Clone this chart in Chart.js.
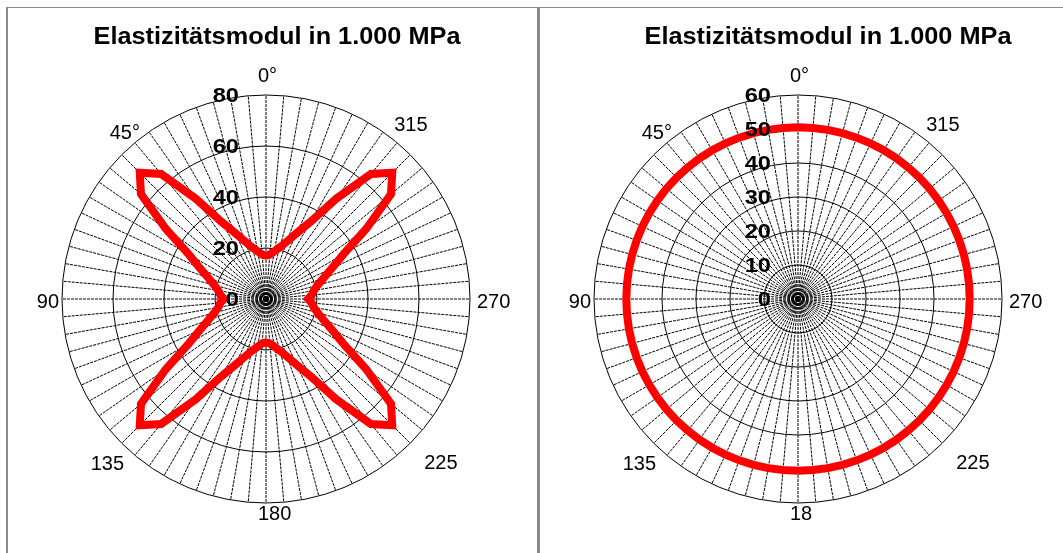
<!DOCTYPE html>
<html>
<head>
<meta charset="utf-8">
<script src="https://cdn.jsdelivr.net/npm/chart.js@4/dist/chart.umd.min.js"></script>
<style>
  html, body { margin: 0; padding: 0; background: #fff; }
  #wrap { position: relative; width: 1063px; height: 553px; overflow: hidden; background: #fff; }
  canvas { position: absolute; }
  .line { position: absolute; background: #8a8a8a; }
</style>
</head>
<body>
<div id="wrap">
  <div class="line" style="left:6px; top:7px; width:1057px; height:1px;"></div>
  <div class="line" style="left:6px; top:7px; width:2px; height:546px;"></div>
  <div class="line" style="left:537px; top:7px; width:3px; height:546px;"></div>
  <canvas id="chartLeft" width="529" height="545" style="left:8px; top:8px;"></canvas>
  <canvas id="chartRight" width="522" height="545" style="left:541px; top:8px;"></canvas>
</div>
<script>
// angles in degrees, counter-clockwise from the top (as labelled in the picture)
const angles = [
  0, 5, 10, 15, 20, 25, 30, 35, 40, 45, 50, 55, 60, 65, 70, 75, 80, 85,
  90, 95, 100, 105, 110, 115, 120, 125, 130, 135, 140, 145, 150, 155, 160, 165, 170, 175,
  180, 185, 190, 195, 200, 205, 210, 215, 220, 225, 230, 235, 240, 245, 250, 255, 260, 265,
  270, 275, 280, 285, 290, 295, 300, 305, 310, 315, 320, 325, 330, 335, 340, 345, 350, 355
];

// Elastizitätsmodul (1.000 MPa), left chart
const eModulLeft = [
  17, 17.5, 19, 21, 24, 28.5, 35, 48, 64, 70, 64, 48, 35, 28.5, 24, 21, 19, 18,
  16.5, 18, 19, 21, 24, 28.5, 35, 48, 64, 70, 64, 48, 35, 28.5, 24, 21, 19, 17.5,
  17, 17.5, 19, 21, 24, 28.5, 35, 48, 64, 70, 64, 48, 35, 28.5, 24, 21, 19, 18,
  16.5, 18, 19, 21, 24, 28.5, 35, 48, 64, 70, 64, 48, 35, 28.5, 24, 21, 19, 17.5
];

// Elastizitätsmodul (1.000 MPa), right chart
const eModulRight = [
  50.5, 50.5, 50.5, 50.5, 50.5, 50.5, 50.5, 50.5, 50.5, 50.5, 50.5, 50.5, 50.5, 50.5, 50.5, 50.5, 50.5, 50.5,
  50.5, 50.5, 50.5, 50.5, 50.5, 50.5, 50.5, 50.5, 50.5, 50.5, 50.5, 50.5, 50.5, 50.5, 50.5, 50.5, 50.5, 50.5,
  50.5, 50.5, 50.5, 50.5, 50.5, 50.5, 50.5, 50.5, 50.5, 50.5, 50.5, 50.5, 50.5, 50.5, 50.5, 50.5, 50.5, 50.5,
  50.5, 50.5, 50.5, 50.5, 50.5, 50.5, 50.5, 50.5, 50.5, 50.5, 50.5, 50.5, 50.5, 50.5, 50.5, 50.5, 50.5, 50.5
];

const leftTicks = [0, 20, 40, 60, 80];
const rightTicks = [0, 10, 20, 30, 40, 50, 60];

// which angles carry a text label, and what it says
const angleTextLeft = { 0: '0°', 45: '45°', 90: '90', 135: '135', 180: '180', 225: '225', 270: '270', 315: '315' };
const angleTextRight = { 0: '0°', 45: '45°', 90: '90', 135: '135', 180: '18', 225: '225', 270: '270', 315: '315' };

const TITLE = 'Elastizitätsmodul in 1.000 MPa';

// label placement relative to the point on the outer ring: [dx, dy, align]
const ANGLE_LABEL_POS = {
  0:   [-8, -19, 'left'],
  45:  [-12, -21, 'left'],
  90:  [-3, 3, 'right'],
  135: [-31, 21, 'left'],
  180: [-8, 11, 'left'],
  225: [14, 20, 'left'],
  270: [7, 3, 'left'],
  315: [-16, -29, 'left'],
};

const FONT = '"Liberation Sans", Arial, Helvetica, sans-serif';

// chart.js radar runs clockwise; the picture counts angles counter-clockwise
function clockwise(arr) {
  return arr.map((_, i) => arr[(arr.length - i) % arr.length]);
}

// the bold texts in the picture are a bit wider than Arial, so stretch them
function wideText(ctx, txt, x, y, stretch) {
  ctx.save();
  ctx.translate(x, y);
  ctx.scale(stretch, 1);
  ctx.fillText(txt, 0, 0);
  ctx.restore();
}

function textPlugin(ticks, angleText, titleX) {
  return {
    id: 'polarText',
    afterDraw(chart) {
      const ctx = chart.ctx;
      const s = chart.scales.r;
      ctx.save();
      ctx.fillStyle = '#000';

      // title
      ctx.font = 'bold 23px ' + FONT;
      ctx.textAlign = 'center';
      ctx.textBaseline = 'alphabetic';
      wideText(ctx, TITLE, titleX - chart.canvas.offsetLeft, 36, 1.1);

      // radial tick labels, right aligned left of the 0° spoke
      ctx.font = 'bold 20px ' + FONT;
      ctx.textAlign = 'right';
      ctx.textBaseline = 'middle';
      ticks.forEach(v => {
        const y = s.yCenter - s.getDistanceFromCenterForValue(v);
        wideText(ctx, String(v), s.xCenter - 27, y + 1, 1.18);
      });

      // angle labels
      ctx.font = '20px ' + FONT;
      chart.data.labels.forEach((a, i) => {
        const txt = angleText[a];
        if (txt === undefined) return;
        const [dx, dy, align] = ANGLE_LABEL_POS[a];
        const p = s.getPointPosition(i, s.drawingArea);
        ctx.textAlign = align;
        ctx.fillText(txt, p.x + dx, p.y + dy);
      });
      ctx.restore();
    }
  };
}

function renderPolar(canvasId, values, ticks, angleText, pad, titleX) {
  const canvas = document.getElementById(canvasId);
  const step = ticks[1] - ticks[0];
  return new Chart(canvas, {
    type: 'radar',
    data: {
      labels: clockwise(angles),
      datasets: [{
        data: clockwise(values),
        borderColor: '#ff0000',
        borderWidth: 8,
        borderJoinStyle: 'miter',
        pointRadius: 0,
        pointHoverRadius: 0,
        fill: false,
        tension: 0,
      }],
    },
    options: {
      responsive: false,
      animation: false,
      events: [],
      layout: { padding: pad },
      plugins: {
        legend: { display: false },
        tooltip: { enabled: false },
        title: { display: false },
      },
      scales: {
        r: {
          min: ticks[0],
          max: ticks[ticks.length - 1],
          ticks: { stepSize: step, display: false },
          grid: { circular: true, color: '#000', lineWidth: 1 },
          angleLines: { color: '#000', lineWidth: 1, borderDash: [3, 1] },
          pointLabels: { display: false },
        },
      },
    },
    plugins: [textPlugin(ticks, angleText, titleX)],
  });
}

renderPolar('chartLeft', eModulLeft, leftTicks, angleTextLeft,
  { left: 54, top: 87, right: 67, bottom: 50 }, 277);
renderPolar('chartRight', eModulRight, rightTicks, angleTextRight,
  { left: 53, top: 87, right: 61, bottom: 50 }, 828);
</script>
</body>
</html>
